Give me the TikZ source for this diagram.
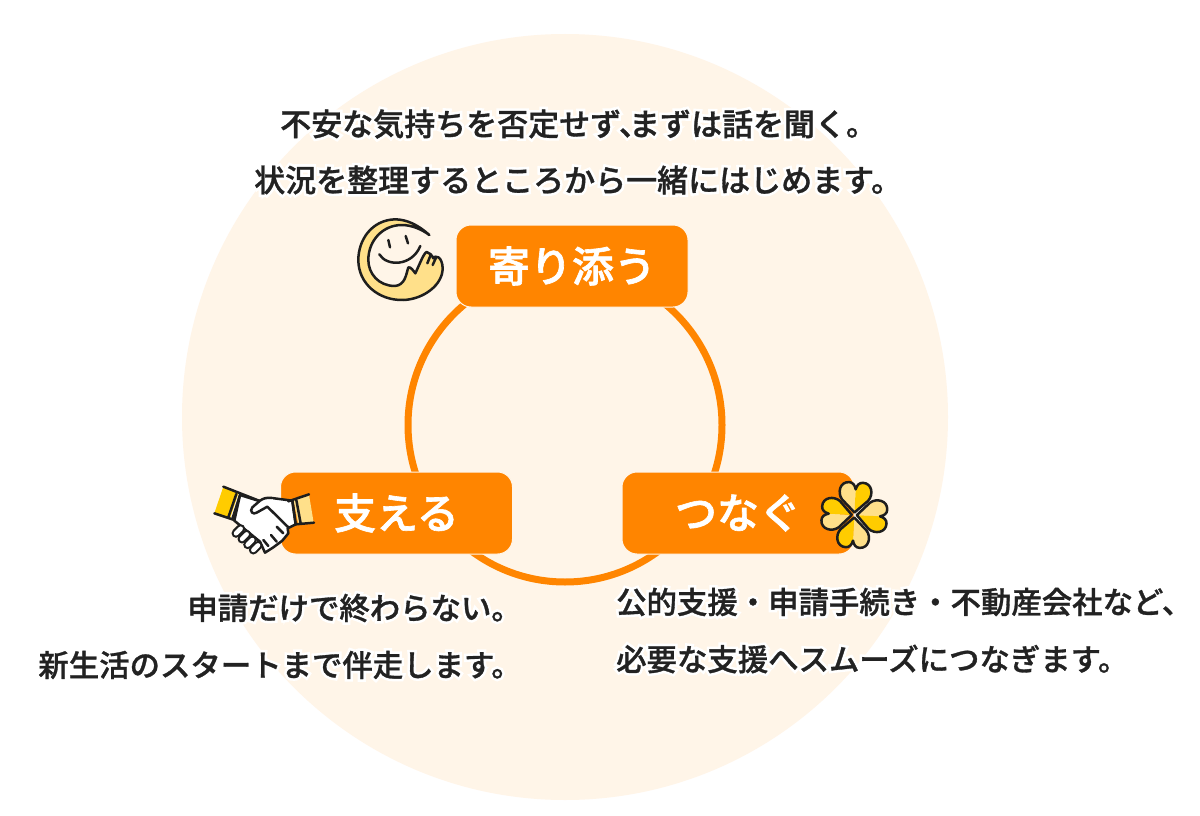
\documentclass[tikz,border=0pt]{standalone}
\usepackage{fontspec}
\newfontfamily\cjk[FakeBold=1]{Noto Sans CJK JP Medium}
\newfontfamily\cjkh[FakeBold=18]{Noto Sans CJK JP Medium}
\newfontfamily\cjkb[FakeBold=1.5]{Noto Sans CJK JP Medium}
\definecolor{bgc}{HTML}{FFF5E8}
\definecolor{org}{HTML}{FF8500}
\definecolor{ink}{HTML}{222222}
\definecolor{gold}{HTML}{FFCC00}
\definecolor{pale}{HTML}{FFE08A}
\definecolor{line}{HTML}{1E1E1E}
\tikzset{
 lab/.style={fill=org,draw=bgc,line width=1pt,rounded corners=15pt,minimum width=232pt,minimum height=82pt,inner sep=0pt,text=white,font=\cjkb\fontsize{42}{42}\selectfont},
 txt/.style={text=ink,inner sep=0pt,font=\cjk\fontsize{30.4}{31}\selectfont},
 txtb/.style={txt,font=\cjk\fontsize{31}{32}\selectfont},
 hl/.style={text=white,inner sep=0pt,font=\cjkh\fontsize{30.4}{31}\selectfont},
 hlb/.style={hl,font=\cjkh\fontsize{31}{32}\selectfont},
 ic/.style={draw=line,line width=2.5pt,line join=round,line cap=round},
}
\newcommand{\heart}[1]{%
 \begin{scope}[rotate around={#1:(163,150)},shift={(163,150)},scale=.94]
  \fill[pale] (8,0) -- (48,-42) .. controls (68,-58) and (104,-52) .. (104,-22) .. controls (104,-10) and (95,-3) .. (82,0) -- cycle;
  \fill[gold] (8,0) -- (48,42) .. controls (68,58) and (104,52) .. (104,22) .. controls (104,10) and (95,3) .. (82,0) -- cycle;
  \draw[ic] (8,0) -- (48,-42) .. controls (68,-58) and (104,-52) .. (104,-22) .. controls (104,-10) and (95,-3) .. (82,0) .. controls (95,3) and (104,10) .. (104,22) .. controls (104,52) and (68,58) .. (48,42) -- cycle;
 \end{scope}}
\begin{document}
\begin{tikzpicture}[x=1pt,y=-1pt]
\useasboundingbox (0,0) rectangle (1200,816);
\fill[white] (0,0) rectangle (1200,816);
\fill[bgc] (565,417) circle (383);
\draw[org,line width=7pt] (565,425) circle (157);
\node[lab] (top) at (572,266) {寄り添う};
\node[lab] (left) at (396.5,513) {支える};
\node[lab] (right) at (738,513) {つなぐ};
\node[hlb,anchor=west] (h1) at (280,124) {不安な気持ちを否定せず、\kern-21pt まずは話を聞く。};
\node[hlb,anchor=west] (h2) at (254,180) {状況を整理するところから一緒にはじめます。};
\node[hl,anchor=east] (h3) at (522,608) {申請だけで終わらない。};
\node[hl,anchor=east] (h4) at (522,665) {新生活のスタートまで伴走します。};
\node[hl,anchor=west] (h5) at (616,602) {公的支援・申請手続き・不動産会社など、};
\node[hl,anchor=west] (h6) at (616,659) {必要な支援へスムーズにつなぎます。};
\node[txtb,anchor=west] (t1) at (280,124) {不安な気持ちを否定せず、\kern-21pt まずは話を聞く。};
\node[txtb,anchor=west] (t2) at (254,180) {状況を整理するところから一緒にはじめます。};
\node[txt,anchor=east] (l1) at (522,608) {申請だけで終わらない。};
\node[txt,anchor=east] (l2) at (522,665) {新生活のスタートまで伴走します。};
\node[txt,anchor=west] (r1) at (616,602) {公的支援・申請手続き・不動産会社など、};
\node[txt,anchor=west] (r2) at (616,659) {必要な支援へスムーズにつなぎます。};
% smile
\begin{scope}[shift={(340,210)},scale=1/3]
 \path[fill=pale,ic] (268,75) .. controls (235,45) and (200,28) .. (165,28) .. controls (95,30) and (55,90) .. (55,150) .. controls (55,220) and (115,272) .. (190,270) .. controls (250,268) and (308,225) .. (308,175) .. controls (308,160) and (302,145) .. (295,142) .. controls (288,138) and (282,140) .. (280,145) .. controls (276,135) and (268,128) .. (260,126) .. controls (252,128) and (240,160) .. (226,190) .. controls (220,182) and (212,170) .. (205,172) .. controls (198,195) and (195,225) .. (165,228) .. controls (115,228) and (85,190) .. (85,150) .. controls (85,90) and (130,45) .. (185,45) .. controls (215,45) and (245,58) .. (268,75) -- cycle;
 \draw[ic] (145,90) -- (150,112);
 \draw[ic] (197,78) -- (204,100);
 \draw[ic] (118,133) .. controls (140,170) and (215,170) .. (241,108);
 \draw[ic] (262,160) -- (272,135);
 \draw[ic] (278,165) -- (288,143);
\end{scope}
% handshake
\begin{scope}[shift={(205,470)},scale=1/3]
 \fill[gold] (55,50) -- (28,130) -- (75,145) -- (100,70) -- cycle;
 \fill[pale] (265,90) -- (312,74) -- (326,158) -- (280,163) -- cycle;
 \path[fill=white,ic] (105,75) -- (172,96) -- (200,84) -- (262,92) -- (272,163) -- (248,175) -- (250,190) -- (232,212) -- (205,232) -- (180,248) -- (165,215) -- (88,152) -- cycle;
 \foreach \ax/\ay in {93/190,111/207,128/224,145/240}{
  \draw[line,line width=9pt,line cap=round] (\ax,\ay) -- ++(14,-14);
  \draw[white,line width=4.5pt,line cap=round] (\ax,\ay) -- ++(14,-14);
 }
 \draw[ic] (55,50) -- (172,96);
 \draw[ic] (28,130) -- (88,150);
 \draw[ic] (94,72) -- (70,142);
 \draw[ic] (105,75) -- (82,147);
 \draw[ic] (250,94) -- (312,73);
 \draw[ic] (272,163) -- (327,158);
 \draw[ic] (262,92) -- (272,163);
 \draw[ic] (274,90) -- (287,160);
 \draw[ic,fill=white] (200,84) .. controls (185,82) and (175,85) .. (165,92) -- (142,112) .. controls (132,125) and (145,135) .. (155,128) -- (187,110) -- (250,172);
 \draw[ic] (198,195) -- (215,215);
 \draw[ic] (175,210) -- (190,228);
 \draw[ic] (215,170) -- (235,190);
\end{scope}
% clover
\begin{scope}[shift={(800,465)},scale=1/3]
 \heart{-3}\heart{87}\heart{177}\heart{267}
\end{scope}
\end{tikzpicture}
\end{document}
